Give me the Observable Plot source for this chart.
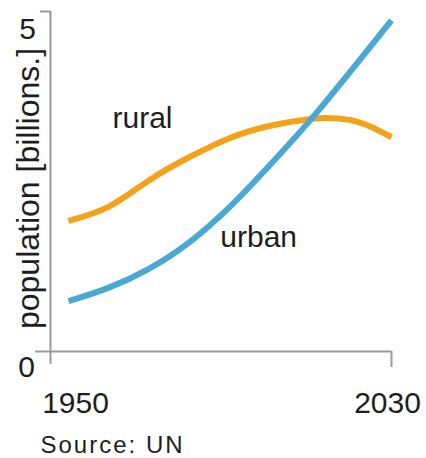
<!DOCTYPE html>
<html>
<head>
<meta charset="utf-8">
<script src="https://cdn.jsdelivr.net/npm/d3@7"></script>
<script src="https://cdn.jsdelivr.net/npm/@observablehq/plot@0.6"></script>
<style>
  html, body { margin: 0; padding: 0; background: #fff; }
  svg { display: block; }
</style>
</head>
<body>
<div id="chart"></div>
<script>
// Data (billions of people)
const urbanYears = [1950, 1960, 1970, 1980, 1990, 2000, 2010, 2020, 2030];
const urban      = [0.74, 0.94, 1.22, 1.61, 2.13, 2.75, 3.41, 4.13, 4.87];
const ruralYears = [1950, 1960, 1970, 1980, 1990, 2000, 2010, 2015, 2020, 2025, 2030];
const rural      = [1.92, 2.13, 2.52, 2.86, 3.14, 3.32, 3.42, 3.43, 3.40, 3.30, 3.15];
const seriesNames = ["rural", "urban"];
const seriesColors = ["#F5A21B", "#4AA8D4"];
const xTicks = [1950, 2030];
const yTicks = [0, 5];
const yLabel = "population [billions.]";
const caption = "Source: UN";
// series label anchors (year, value)
const labelYears = [1960.9, 1987.6];
const labelValues = [3.28, 1.54];

const xMin = 1945.54, xMax = 2030;

const rows = [
  ...ruralYears.map((yr, i) => ({year: yr, value: rural[i], series: "rural"})),
  ...urbanYears.map((yr, i) => ({year: yr, value: urban[i], series: "urban"}))
];
const labels = seriesNames.map((s, i) => ({series: s, year: labelYears[i], value: labelValues[i]}));

const axisColor = "#9a9a9a";
const textColor = "#1e1e1e";
const font = "'Liberation Sans', Arial, sans-serif";

const chart = Plot.plot({
  width: 426,
  height: 458,
  marginLeft: 50,
  marginRight: 35,
  marginTop: 11,
  marginBottom: 107,
  style: {fontFamily: font, background: "#fff"},
  x: {domain: [xMin, xMax], axis: null},
  y: {domain: [0, 5], axis: null},
  color: {domain: seriesNames, range: seriesColors},
  marks: [
    // axes frame
    Plot.ruleX([xMin], {y1: 5, y2: -0.19, stroke: axisColor, strokeWidth: 2}),
    Plot.ruleY([5], {x1: xMin - 2.5, x2: xMin, stroke: axisColor, strokeWidth: 2}),
    Plot.ruleY([0], {x1: xMin - 3.7, x2: xMax, stroke: axisColor, strokeWidth: 2}),
    Plot.ruleX([xMax], {y1: 0, y2: -0.235, stroke: axisColor, strokeWidth: 2}),
    // lines
    Plot.line(rows, {x: "year", y: "value", z: "series", stroke: "series", strokeWidth: 6, curve: "natural", strokeLinecap: "butt"}),
    // series labels
    Plot.text(labels, {x: "year", y: "value", text: "series", textAnchor: "start", lineAnchor: "bottom", fontSize: 30, fill: textColor}),
    // x tick labels
    Plot.text([xTicks[0]], {x: d => d, y: () => 0, text: d => String(d), dy: 61, dx: 7, lineAnchor: "bottom", fontSize: 30, fill: textColor}),
    Plot.text([xTicks[1]], {x: d => d, y: () => 0, text: d => String(d), dy: 61, dx: -4, lineAnchor: "bottom", fontSize: 30, fill: textColor}),
    // y tick labels
    Plot.text([yTicks[0]], {x: () => xMin, y: d => d, text: d => String(d), dx: -24, dy: 15.5, lineAnchor: "middle", fontSize: 30, fill: textColor}),
    Plot.text([yTicks[1]], {x: () => xMin, y: d => d, text: d => String(d), dx: -23, dy: 18, lineAnchor: "middle", fontSize: 30, fill: textColor}),
    // y axis label
    Plot.text([yLabel], {x: () => xMin, y: () => 2.397, text: d => d, dx: -12, rotate: -90, lineAnchor: "bottom", fontSize: 32, fill: textColor}),
    // caption
    Plot.text([caption], {x: () => xMin, y: () => 0, text: d => d, dx: -10, dy: 101, textAnchor: "start", lineAnchor: "bottom", fontSize: 24, fill: textColor})
  ]
});
document.getElementById("chart").appendChild(chart);
// widen the caption's letter spacing to match the reference
d3.select(chart).selectAll("text").filter(function() { return this.textContent === caption; }).style("letter-spacing", "2px");
</script>
</body>
</html>
